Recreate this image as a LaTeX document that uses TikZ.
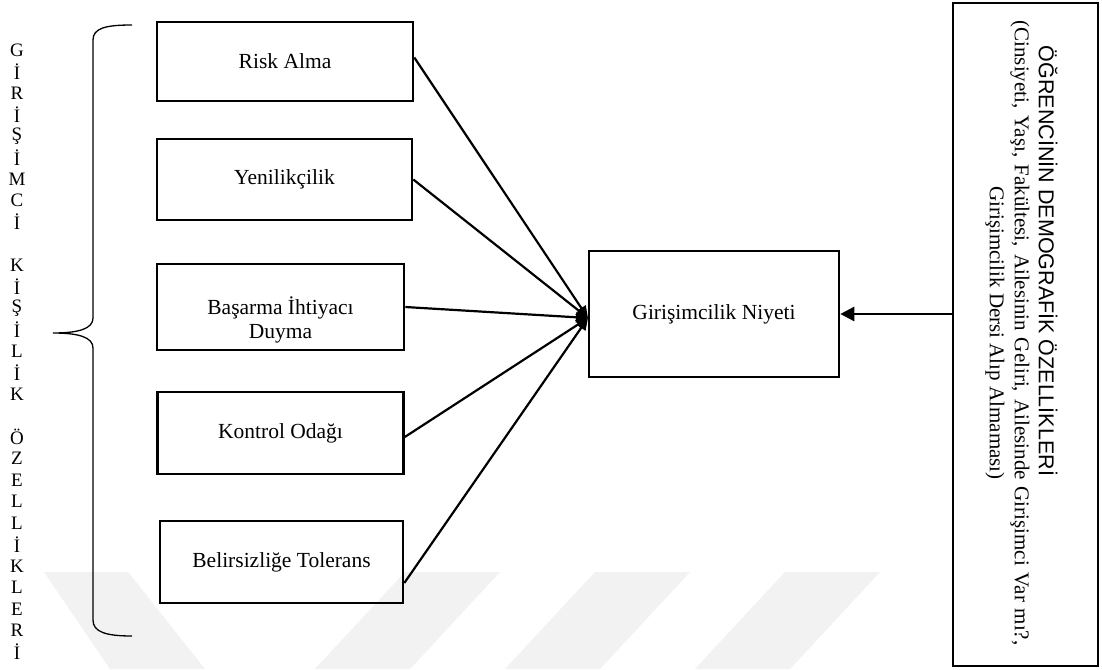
\documentclass[tikz,border=0pt]{standalone}
\usepackage{fontspec}
\setmainfont{Liberation Serif}
\newfontfamily\arialf{Liberation Sans}
\usetikzlibrary{arrows.meta}
\tikzset{
  boxn/.style={draw, line width=2.6pt, inner sep=0pt, align=center, font=\fontsize{21.5}{25}\selectfont},
  conn/.style={line width=2.2pt, -{Triangle[length=12pt,width=10pt]}},
  letter/.style={inner sep=0pt, font=\fontsize{19}{19}\selectfont},
  wm/.style={fill=black!5, draw=none},
  rtext/.style={rotate=-90, inner sep=0pt, font=\fontsize{21}{25}\selectfont}
}
\begin{document}
\begin{tikzpicture}[x=1pt,y=-1pt]
\useasboundingbox (0,0) rectangle (1102,669);
\fill[white] (0,0) rectangle (1102,669);
% watermark
\fill[wm] (44,572) -- (128,572) -- (205,669) -- (110,669) -- cycle;
\fill[wm] (405,572) -- (500,572) -- (410,669) -- (315,669) -- cycle;
\fill[wm] (595,572) -- (690,572) -- (600,669) -- (505,669) -- cycle;
\fill[wm] (785,572) -- (880,572) -- (790,669) -- (695,669) -- cycle;
% left boxes
\node[boxn, minimum width=256pt, minimum height=79pt] (risk) at (285,61.5) {Risk Alma};
\node[boxn, minimum width=255pt, minimum height=81pt] (yen) at (284.5,179.5) {Yenilikçilik};
\node[boxn, minimum width=247pt, minimum height=86pt] (bas) at (280.5,307) {};
\node[inner sep=0pt, align=center, font=\fontsize{21.5}{24}\selectfont] (bastext) at (280.5,320) {Başarma İhtiyacı\\Duyma};
\node[boxn, minimum width=246pt, minimum height=82pt] (kon) at (280.5,433) {Kontrol Odağı};
\node[boxn, minimum width=243pt, minimum height=82pt] (bel) at (281.5,562) {Belirsizliğe Tolerans};
% center box
\node[boxn, minimum width=250pt, minimum height=126pt] (niy) at (714,314) {Girişimcilik Niyeti};
% right box
\node[draw, line width=2pt, minimum width=145pt, minimum height=663pt, inner sep=0pt] (dem) at (1025.5,334.5) {};
\node[rtext, font=\arialf\fontsize{21.5}{25}\selectfont] (demt) at (1048,261) {ÖĞRENCİNİN DEMOGRAFİK ÖZELLİKLERİ};
\node[rtext] (deml2) at (1020,333) {\makebox[625pt][s]{(Cinsiyeti, Yaşı, Fakültesi, Ailesinin Geliri, Ailesinde Girişimci Var mı?,}};
\node[rtext] (deml3) at (995,333) {Girişimcilik Dersi Alıp Almaması)};
% connectors
\coordinate (tip) at (588,318);
\draw[conn] ([yshift=4pt]risk.east) -- (tip);
\draw[conn] (yen.east) -- (tip);
\draw[conn] (bas.east) -- (tip);
\draw[conn] ([yshift=-4pt]kon.east) -- (tip);
\draw[conn] ([yshift=-21pt]bel.east) -- (tip);
\draw[line width=2.6pt, -{Triangle[length=14pt,width=14pt]}] (dem.west |- niy.east) -- (niy.east);
% brace
\draw[line width=1.3pt] (132,25) .. controls (106,25) and (93,28) .. (93,40) -- (93,318)
  .. controls (93,329) and (78,333) .. (53,333)
  .. controls (78,333) and (93,337) .. (93,348) -- (93,620)
  .. controls (93,632) and (106,636) .. (132,636);
% vertical letters
\foreach \l [count=\i from 0] in {G,İ,R,İ,Ş,İ,M,C,İ,{},K,İ,Ş,İ,L,İ,K,{},Ö,Z,E,L,L,İ,K,L,E,R,İ} {
  \node[letter] (let\i) at (17,{50+21.5*\i}) {\l};
}
\end{tikzpicture}
\end{document}
